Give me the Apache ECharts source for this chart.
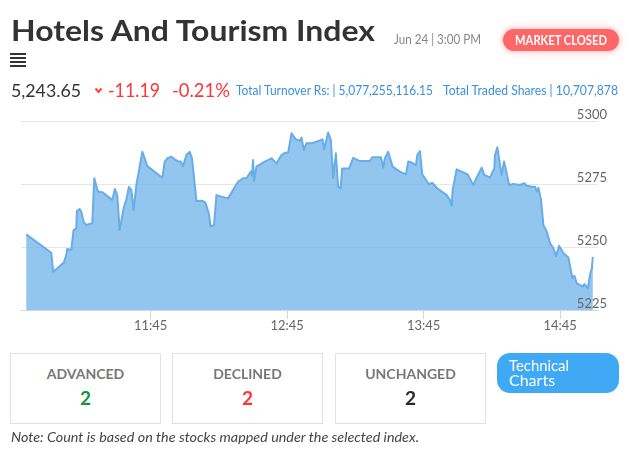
<!DOCTYPE html>
<html><head><meta charset="utf-8">
<script src="https://cdn.jsdelivr.net/npm/echarts@6/dist/echarts.min.js"></script>
<style>
html,body{margin:0;padding:0;background:#fff;width:630px;height:460px;overflow:hidden;font-family:Lato,"Noto Sans",sans-serif;}
#chart{position:absolute;left:0;top:0;width:630px;height:460px;}
.t{position:absolute;white-space:nowrap;line-height:normal;}
.box{position:absolute;width:149px;height:69px;border:1px solid #e0e0e0;background:#fff;}
</style></head>
<body>
<div id="chart"></div>
<div id="ui"></div>
<script>
// ---- data ----
const times = ["10:50:18","11:01:18","11:02:11","11:06:50","11:07:54","11:08:20","11:10:06","11:11:07","11:12:18","11:12:34","11:13:45","11:14:30","11:15:31","11:16:42","11:19:20","11:20:13","11:21:49","11:24:01","11:26:13","11:28:08","11:29:17","11:30:20","11:31:22","11:32:14","11:33:15","11:34:19","11:35:27","11:36:31","11:37:31","11:38:43","11:41:21","11:43:33","11:50:09","11:51:10","11:52:21","11:54:07","11:55:34","11:57:19","11:58:12","11:59:13","12:00:43","12:02:10","12:03:11","12:05:07","12:07:35","12:09:04","12:10:32","12:11:24","12:12:52","12:13:55","12:16:07","12:19:01","12:21:13","12:23:25","12:25:37","12:27:07","12:29:01","12:29:35","12:30:01","12:30:28","12:31:31","12:35:10","12:38:07","12:40:19","12:42:31","12:43:58","12:45:26","12:46:55","12:48:49","12:50:34","12:51:19","12:52:20","12:53:31","12:55:43","12:57:55","13:00:34","13:01:16","13:03:02","13:04:13","13:05:14","13:06:25","13:07:26","13:08:29","13:09:11","13:12:16","13:14:02","13:16:59","13:21:23","13:22:23","13:26:13","13:27:14","13:27:59","13:29:26","13:31:22","13:34:35","13:37:14","13:38:14","13:39:44","13:41:38","13:42:12","13:43:23","13:44:24","13:45:35","13:47:21","13:48:48","13:50:44","13:52:38","13:54:05","13:55:08","13:56:35","13:57:20","13:57:47","13:58:21","13:59:32","14:01:44","14:04:23","14:06:51","14:08:20","14:10:32","14:11:41","14:14:11","14:16:05","14:16:23","14:17:25","14:18:17","14:19:20","14:20:21","14:21:14","14:22:34","14:24:27","14:27:24","14:29:17","14:30:21","14:32:33","14:34:00","14:34:45","14:35:27","14:36:38","14:37:39","14:39:09","14:40:36","14:42:03","14:43:14","14:44:34","14:46:27","14:48:39","14:50:25","14:51:17","14:52:21","14:53:48","14:54:59","14:55:42","14:57:11","14:58:12","14:58:57","14:59:23"];
const values = [5255.0,5247.7,5240.2,5243.8,5246.8,5249.2,5248.8,5256.7,5257.4,5264.3,5265.1,5264.0,5260.0,5258.7,5259.4,5277.3,5272.0,5271.6,5270.0,5268.7,5273.0,5270.6,5256.7,5256.1,5266.0,5268.7,5273.9,5272.6,5264.7,5274.6,5287.8,5282.1,5277.5,5283.9,5285.2,5285.8,5284.8,5283.9,5283.9,5282.1,5286.5,5287.8,5285.2,5268.3,5268.4,5267.6,5263.4,5258.1,5258.7,5270.6,5270.0,5269.3,5272.6,5275.9,5277.3,5277.3,5279.9,5278.2,5284.5,5276.2,5281.9,5283.9,5285.2,5283.2,5286.5,5287.4,5287.4,5295.1,5292.7,5292.2,5293.4,5288.5,5291.2,5291.2,5291.8,5292.7,5288.8,5295.4,5292.5,5277.3,5287.2,5273.9,5273.3,5281.2,5281.2,5285.4,5284.1,5284.1,5285.6,5285.6,5281.5,5285.2,5287.8,5281.9,5279.9,5278.8,5283.9,5283.5,5282.5,5286.5,5288.1,5278.8,5277.3,5274.9,5275.5,5273.5,5272.2,5271.3,5270.6,5268.7,5266.4,5272.6,5273.3,5280.8,5279.9,5278.8,5274.6,5277.5,5281.5,5278.6,5277.5,5281.2,5286.5,5289.6,5284.5,5278.6,5283.9,5280.6,5274.6,5275.0,5274.6,5275.3,5274.3,5273.9,5273.9,5272.0,5273.5,5268.7,5258.7,5256.1,5251.5,5249.5,5246.4,5250.5,5247.5,5245.8,5237.6,5238.6,5235.6,5234.9,5234.3,5235.3,5233.6,5239.2,5241.5,5246.1];
const tickLabels = ["11:45","12:45","13:45","14:45"];
const yMin = 5225, yMax = 5300, yStep = 25;
const axisStart = "10:48:00", axisEnd = "15:01:40";

const title = "Hotels And Tourism Index";
const dateText = "Jun 24 | 3:00 PM";
const statusText = "MARKET CLOSED";
const lastValue = "5,243.65", change = "-11.19", changePct = "-0.21%";
const turnover = "Total Turnover Rs: | 5,077,255,116.15";
const shares = "Total Traded Shares | 10,707,878";
const boxLabels = ["ADVANCED","DECLINED","UNCHANGED"];
const boxCounts = ["2","2","2"];
const note = "Note: Count is based on the stocks mapped under the selected index.";

// ---- chart ----
function toSec(s){const p=s.split(':').map(Number);return p[0]*3600+p[1]*60+(p[2]||0);}
function fmt(v){const h=Math.floor(v/3600),m=Math.round((v%3600)/60);return h+':'+String(m).padStart(2,'0');}
const tickVals = tickLabels.map(toSec);
const chart = echarts.init(document.getElementById('chart'), null, {renderer:'canvas'});
const yBase = {type:'value',position:'right',min:yMin,max:yMax,interval:yStep,axisLine:{show:false},axisTick:{show:false}};
chart.setOption({
  animation:false,
  grid:{left:21,right:32,top:121,bottom:150},
  xAxis:{type:'value',min:toSec(axisStart),max:toSec(axisEnd),z:4,
    axisLine:{lineStyle:{color:'#ccd6eb',width:1}},
    axisTick:{show:true,customValues:tickVals,length:9,lineStyle:{color:'#ccd6eb'}},
    axisLabel:{customValues:tickVals,formatter:fmt,color:'#666',fontSize:13,fontFamily:'Lato',margin:9},
    splitLine:{show:false}},
  yAxis:[
    Object.assign({},yBase,{axisLabel:{show:false},splitLine:{lineStyle:{color:'#e6e6e6',width:1}}}),
    Object.assign({},yBase,{z:5,splitLine:{show:false},
      axisLabel:{align:'right',verticalAlign:'bottom',margin:9,color:'#666',fontSize:13,fontFamily:'Lato',formatter:v=>String(v)}})
  ],
  series:[{type:'line',yAxisIndex:0,data:times.map((t,i)=>[toSec(t),values[i]]),showSymbol:false,
    lineStyle:{color:'#68ace8',width:2,join:'round'},
    areaStyle:{color:'rgba(120,184,235,0.8)',opacity:1,origin:'start'},z:2}]
});

// ---- html texts ----
const ui = document.getElementById('ui');
function T(txt,o){
  const d=document.createElement('div');d.className='t';
  d.style.fontSize=o.size+'px';d.style.fontWeight=o.weight||400;d.style.color=o.color||'#333';
  if(o.italic)d.style.fontStyle='italic';
  if(o.family)d.style.fontFamily=o.family;
  d.textContent=txt;
  const mk=document.createElement('span');mk.style.cssText='display:inline-block;width:0;height:0;vertical-align:baseline;';
  d.appendChild(mk);
  ui.appendChild(d);
  const w=d.getBoundingClientRect().width;const bo=mk.offsetTop;
  const sx=o.w? o.w/w:1;
  const rw=w*sx;
  let left=o.x;
  if(o.center) left=o.x-rw/2;
  d.style.left=left+'px';d.style.top=(o.b-bo)+'px';
  d.style.transformOrigin='0 0';d.style.transform='scaleX('+sx+')';
  return d;
}
function R(x,y,w,h,css){const d=document.createElement('div');d.style.cssText='position:absolute;left:'+x+'px;top:'+y+'px;width:'+w+'px;height:'+h+'px;'+css;ui.appendChild(d);return d;}

T(title,{x:11,b:41,w:364,size:28,weight:700,color:'#333'});
for(let i=0;i<4;i++) R(10,53+i*4,16,2,'background:#333;');
T(dateText,{x:394,b:44,w:87,size:12.5,color:'#888'});
R(503,29,116,22,'background:#fe6767;border-radius:11px;box-shadow:0 0 7px rgba(255,90,90,0.55);');
T(statusText,{x:561,b:45,w:92,size:13.5,weight:700,color:'#fff',center:true});
T(lastValue,{x:11,b:97,w:70,size:18,color:'#333'});
const sv=document.createElementNS('http://www.w3.org/2000/svg','svg');
sv.setAttribute('width','12');sv.setAttribute('height','10');
sv.style.cssText='position:absolute;left:93px;top:86px;';
sv.innerHTML='<polyline points="2.5,2.5 5.5,6 8.5,2.5" fill="none" stroke="#f43" stroke-width="2"/>';
ui.appendChild(sv);
T(change,{x:108,b:97,w:52,size:19,color:'#ff3535'});
T(changePct,{x:172,b:97,w:58,size:19,color:'#ff3535'});
T(turnover,{x:236,b:95,w:197,size:13,color:'#3b8fdc'});
T(shares,{x:443,b:95,w:175,size:13,color:'#3b8fdc'});
const bx=[10,172,335];
bx.forEach((x,i)=>{
  const b=document.createElement('div');b.className='box';b.style.left=x+'px';b.style.top='353px';ui.appendChild(b);
  T(boxLabels[i],{x:x+75.5,b:378.5,size:14,weight:700,color:'#777',center:true});
  T(boxCounts[i],{x:x+75.5,b:405,size:19,weight:700,color:['#17963a','#ff3535','#2a2a2a'][i],center:true});
});
R(497,353,122,40,'background:#40a9f6;border-radius:13px;');
T("Technical",{x:509,b:371,w:60,size:16,weight:400,color:'#fff'});
T("Charts",{x:509,b:386,size:16,weight:400,color:'#fff'});
T(note,{x:11,b:442,w:408,size:13,italic:true,color:'#444'});
</script>
</body></html>
